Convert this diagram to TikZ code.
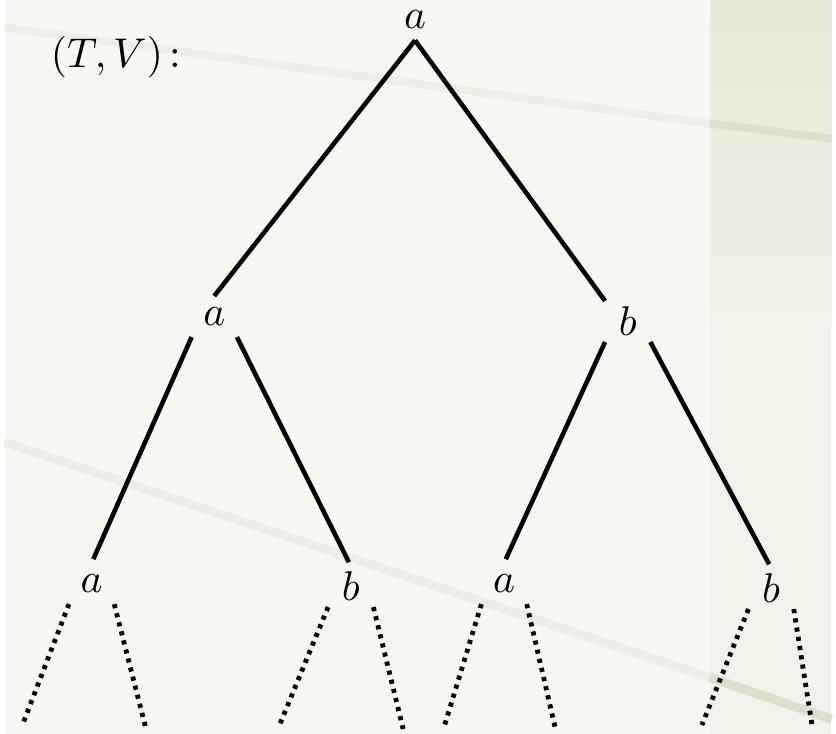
\documentclass[tikz,border=0pt]{standalone}
\usepackage{amsmath,amssymb}
\usepackage{tikz}
\definecolor{bgpale}{HTML}{F7F8F3}
\definecolor{bgpanel}{HTML}{F1F2E9}
\definecolor{bgpanelb}{HTML}{E7E9D8}
\definecolor{stripe}{HTML}{EDEFE5}
\definecolor{stripeb}{HTML}{DCDFCC}

\begin{document}
\begin{tikzpicture}[x=0.238pt,y=-0.238pt,
  lab/.style={inner sep=1pt,minimum width=10.5pt,minimum height=9.5pt},
  branch/.style={line width=1.1pt},
  dots/.style={line width=1.15pt,dash pattern=on 1pt off 1.25pt}]
\fill[bgpale] (0,0) rectangle (836,742);
\shade[top color=bgpanelb,bottom color=bgpanel] (713,0) rectangle (836,330);
\fill[bgpanel] (713,330) rectangle (836,742);
\draw[stripe,line width=1.9pt] (0,28) -- (713,125);
\draw[stripeb,line width=1.9pt] (713,125) -- (836,140);
\draw[stripe,line width=2.2pt] (0,447) -- (713,685);
\draw[stripeb,line width=2.2pt] (713,685) -- (836,727);
\useasboundingbox (0,0) rectangle (836,742);
\node[anchor=west,inner sep=0pt] (tv) at (46,58) {$(T,V)$\,:};
\node[lab] (r) at (415,20) {$a$};
\node[lab] (l1a) at (212,320) {$a$};
\node[lab] (l1b) at (630,325) {$b$};
\node[lab] (l2a) at (88,590) {$a$};
\node[lab] (l2b) at (350,593) {$b$};
\node[lab] (l2c) at (505,590) {$a$};
\node[lab] (l2d) at (775,595) {$b$};
\coordinate (e1) at (18,733);
\coordinate (e2) at (143,737);
\coordinate (e3) at (278,733);
\coordinate (e4) at (403,737);
\coordinate (e5) at (445,733);
\coordinate (e6) at (557,737);
\coordinate (e7) at (705,733);
\coordinate (e8) at (817,737);
\draw[branch] (r.south) -- (l1a.north);
\draw[branch] (r.south) -- (l1b.north west);
\draw[branch,shorten >=1pt] (l1a.south west) -- (l2a.north);
\draw[branch,shorten >=1pt] (l1a.south east) -- (l2b.north);
\draw[branch,shorten >=1pt] (l1b.south west) -- (l2c.north);
\draw[branch,shorten >=1pt] (l1b.south east) -- (l2d.north);
\draw[dots] (l2a.south west) -- (e1);
\draw[dots] (l2a.south east) -- (e2);
\draw[dots] (l2b.south west) -- (e3);
\draw[dots] (l2b.south east) -- (e4);
\draw[dots] (l2c.south west) -- (e5);
\draw[dots] (l2c.south east) -- (e6);
\draw[dots] (l2d.south west) -- (e7);
\draw[dots] (l2d.south east) -- (e8);
\end{tikzpicture}
\end{document}
